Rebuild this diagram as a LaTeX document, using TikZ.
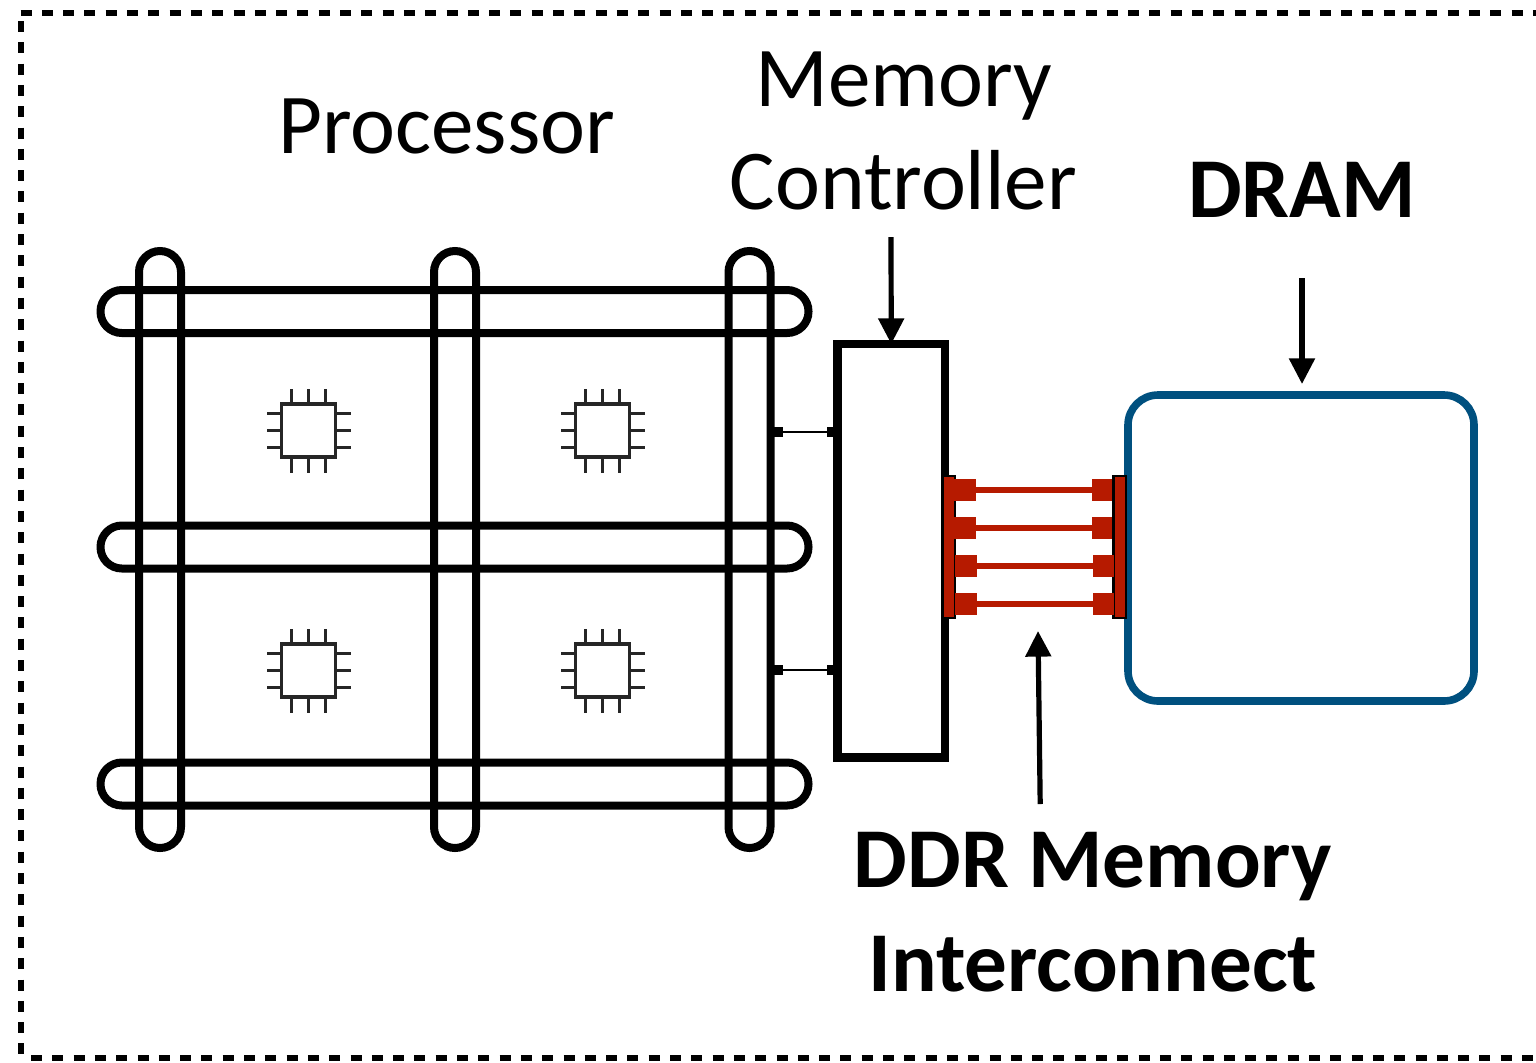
\documentclass[tikz,border=0pt]{standalone}
\usepackage{fontspec}
\setmainfont{Carlito}
\usetikzlibrary{arrows.meta}
\definecolor{phyred}{HTML}{B61A00}
\definecolor{dramblue}{HTML}{00507F}
\tikzset{
  x=0.5pt,y=-0.5pt,
  every node/.style={inner sep=0pt,outer sep=0pt},
  frameline/.style={line width=3pt,dash pattern=on 5.5pt off 5.15pt},
  hring/.style={draw=black,line width=4pt,minimum width=354pt,minimum height=21.5pt,rounded corners=10.7pt},
  vring/.style={draw=black,line width=4pt,minimum width=21pt,minimum height=298.5pt,rounded corners=10.5pt},
  mcbox/.style={draw=black,fill=white,line width=4.15pt,minimum width=53.75pt,minimum height=206.75pt},
  drambox/.style={draw=dramblue,fill=white,line width=3.8pt,minimum width=173pt,minimum height=153pt,rounded corners=15pt},
  linkpad/.style={fill=black,minimum width=4.5pt,minimum height=5pt},
  linkline/.style={line width=0.9pt,black},
  phybar/.style={draw=black,fill=phyred,line width=1.3pt,minimum width=6.3pt,minimum height=71pt},
  padnode/.style={fill=phyred,minimum height=11pt},
  phyline/.style={draw=phyred,line width=2.6pt},
  callout/.style={draw=black,line width=2.6pt,-{Triangle[width=12.5pt,length=12.8pt]}},
  chipbox/.style={draw=black!85,fill=white,line width=1.6pt,minimum width=27pt,minimum height=26.5pt},
  chippin/.style={draw=black!85,line width=1.6pt},
  regularlabel/.style={font=\fontsize{42.6}{48}\selectfont,anchor=base,text=black},
  boldlabel/.style={font=\fontsize{42.6}{48}\selectfont\bfseries,anchor=base,text=black},
  chip/.pic={
    \node[chipbox] (-core) at (0,0) {};
    \foreach \d in {-17,0,17}{
      \draw[chippin] (\d,-27) -- (\d,-42);
      \draw[chippin] (\d,27) -- (\d,42);
      \draw[chippin] (-27,\d) -- (-42,\d);
      \draw[chippin] (27,\d) -- (42,\d);
    }
  }
}
\begin{document}
\begin{tikzpicture}
\useasboundingbox (0,0) rectangle (1536,1062);
% frame
\draw[frameline] (20.7,21) -- (20.7,1058);
\draw[frameline] (20.5,13) -- (1536,13);
\draw[frameline] (31,1058) -- (1536,1058);
% rings
\node[hring] (h1) at (454.5,311.5) {};
\node[hring] (h2) at (454.5,547) {};
\node[hring] (h3) at (454.5,784) {};
\node[vring] (v1) at (160,549.5) {};
\node[vring] (v2) at (455,549.5) {};
\node[vring] (v3) at (749.5,549.5) {};
% chips
\pic (c1) at (308.5,430.5) {chip};
\pic (c2) at (602.5,430.5) {chip};
\pic (c3) at (308.5,670.5) {chip};
\pic (c4) at (602.5,670.5) {chip};
% memory controller and DRAM
\node[mcbox] (mc) at (891.25,550.75) {};
\node[drambox] (dram) at (1301,548) {};
% processor to controller links
\node[linkpad] (la1) at (778.5,432) {};
\node[linkpad] (la2) at (831,432) {};
\node[linkpad] (lb1) at (778.5,670) {};
\node[linkpad] (lb2) at (831,670) {};
\draw[linkline] (la1) -- (la2);
\draw[linkline] (lb1) -- (lb2);
% PHY bars
\node[phybar] (pl) at (948.5,547) {};
\node[phybar] (pr) at (1119.5,547) {};
% DDR pads and lines
\node[padnode,minimum width=11.5pt] (l1) at (964.5,490) {};
\node[padnode,minimum width=11.5pt] (l2) at (964.5,528) {};
\node[padnode,minimum width=11pt] (l3) at (966,566) {};
\node[padnode,minimum width=11pt] (l4) at (966,604) {};
\node[padnode,minimum width=10pt] (r1) at (1102,490) {};
\node[padnode,minimum width=10pt] (r2) at (1102,528) {};
\node[padnode,minimum width=10.5pt] (r3) at (1103.5,566) {};
\node[padnode,minimum width=10.5pt] (r4) at (1103.5,604) {};
\foreach \i in {1,2,3,4}{\draw[phyline] (l\i) -- (r\i);}
% callouts
\coordinate (mcfrom) at (891,237);
\coordinate (dramfrom) at (1302,278);
\coordinate (dramto) at (1302,384);
\coordinate (ddrfrom) at (1040.2,804);
\coordinate (ddrto) at (1038,631);
\draw[callout] (mcfrom) -- (mc.north);
\draw[callout] (dramfrom) -- (dramto);
\draw[callout] (ddrfrom) -- (ddrto);
% labels
\node[regularlabel] (tproc) at (446.5,153.5) {Processor};
\node[regularlabel] (tmem) at (904,106) {Memory};
\node[regularlabel] (tctl) at (903.5,209.5) {Controller};
\node[boldlabel] (tdram) at (1302,217.5) {DRAM};
\node[boldlabel] (tddr) at (1093,887.5) {DDR Memory};
\node[boldlabel] (tint) at (1093,991.5) {Interconnect};
\end{tikzpicture}
\end{document}
